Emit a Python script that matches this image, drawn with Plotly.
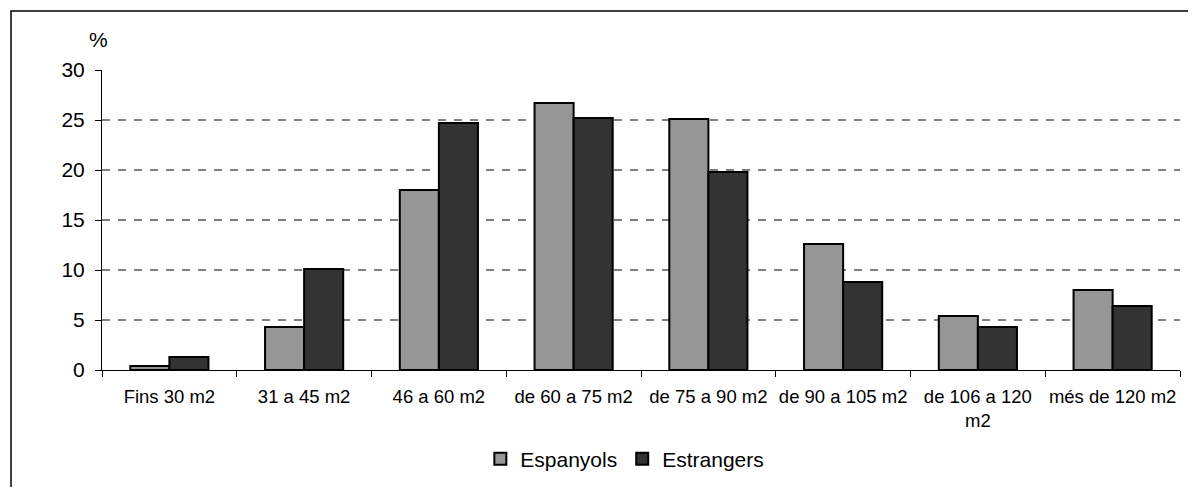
import plotly.graph_objects as go

# superficie de l'habitatge, % de llars
categories = ["Fins 30 m2", "31 a 45 m2", "46 a 60 m2", "de 60 a 75 m2",
              "de 75 a 90 m2", "de 90 a 105 m2", "de 106 a 120<br>m2", "més de 120 m2"]
espanyols = [0.4, 4.3, 18.0, 26.7, 25.1, 12.6, 5.4, 8.0]
estrangers = [1.3, 10.1, 24.7, 25.2, 19.8, 8.8, 4.3, 6.4]
y_ticks = [0, 5, 10, 15, 20, 25, 30]

FONT = "Liberation Sans, Arial, sans-serif"

fig = go.Figure()
fig.add_trace(go.Bar(x=categories, y=espanyols, name="Espanyols",
                     marker=dict(color="#969696", line=dict(color="black", width=2))))
fig.add_trace(go.Bar(x=categories, y=estrangers, name="Estrangers",
                     marker=dict(color="#333333", line=dict(color="black", width=2))))

# the page body has an 8px margin, so keep the figure inside the window
fig.update_layout(
    width=1180, height=479,
    margin=dict(l=94, r=8, t=62, b=117, autoexpand=False),
    paper_bgcolor="white", plot_bgcolor="white",
    font=dict(family=FONT, size=18.5, color="black"),
    barmode="group", bargap=0.42, bargroupgap=0,
    showlegend=True,
    legend=dict(orientation="h", x=0.485, xanchor="center", y=-0.297, yanchor="middle",
                font=dict(size=21), itemwidth=30, tracegroupgap=0, traceorder="normal"),
    # marc exterior del gràfic
    shapes=[dict(type="rect", xref="paper", yref="paper",
                 x0=-0.0844, x1=1.03, y0=-0.45, y1=1.1967,
                 line=dict(color="black", width=1.5), fillcolor="rgba(0,0,0,0)")],
    annotations=[dict(text="%", xref="paper", yref="paper", x=-0.003, y=1.1,
                      xanchor="center", yanchor="middle",
                      showarrow=False, font=dict(size=21))],
)

fig.update_xaxes(showline=True, linecolor="black", linewidth=1, automargin=False,
                 ticks="outside", tickson="boundaries", ticklen=6, tickcolor="black",
                 tickangle=0, showgrid=False, ticklabelstandoff=10, tickfont=dict(size=18.5))
fig.update_yaxes(range=[0, 30], tickvals=y_ticks, showline=True, linecolor="black", linewidth=1,
                 automargin=False, ticks="outside", ticklen=6, tickcolor="black",
                 showgrid=True, gridcolor="#808080", griddash="8px,8px", gridwidth=1.5,
                 zeroline=False, ticklabelstandoff=6, tickfont=dict(size=21))

fig.write_html("out.html")
